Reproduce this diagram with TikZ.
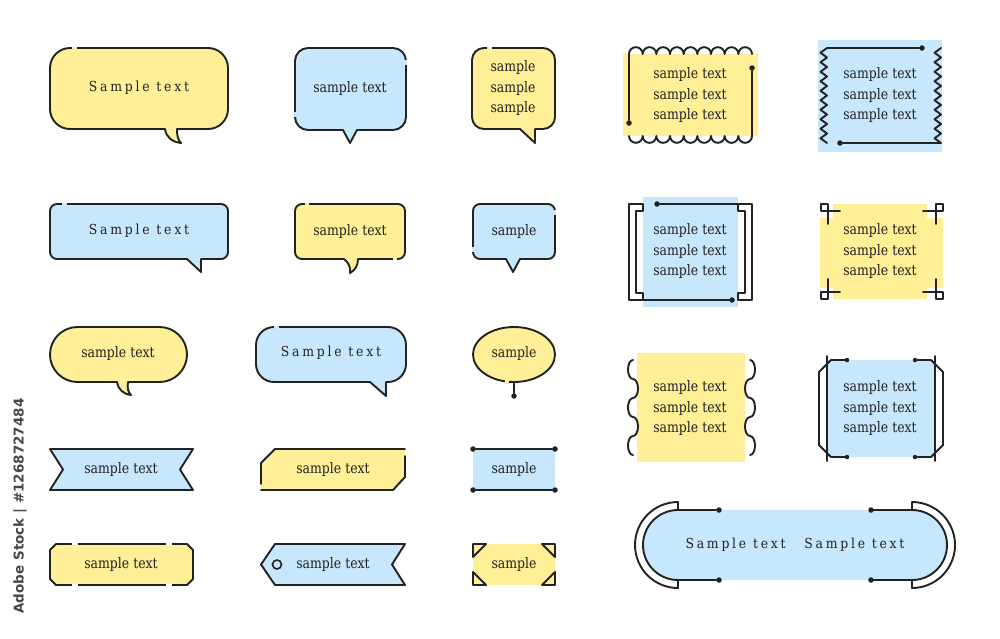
\documentclass[tikz,border=0pt]{standalone}
\usepackage{fontspec}
\setmainfont{DejaVu Serif}[FakeStretch=0.86]
\newfontfamily\spfont{DejaVu Serif}[FakeStretch=0.9,LetterSpace=20]
\newfontfamily\wmfont{DejaVu Sans}
\definecolor{ink}{HTML}{222222}
\definecolor{yfill}{RGB}{255,239,150}
\definecolor{bfill}{RGB}{199,231,252}
\newcommand\rrpath[6]{(#1+#5,#2) -- (#3-#5,#2) arc[start angle=270,end angle=360,radius=#5] -- (#3,#4-#5) arc[start angle=0,end angle=90,radius=#5] #6 -- (#1+#5,#4) arc[start angle=90,end angle=180,radius=#5] -- (#1,#2+#5) arc[start angle=180,end angle=270,radius=#5] -- cycle}
\begin{document}
\begin{tikzpicture}[x=1pt,y=-1pt,
  ln/.style={draw=ink,line width=1.9pt,line join=round,line cap=round},
  txt/.style={text=ink,align=center,inner sep=0pt,font=\fontsize{14.5}{20.5}\selectfont},
  sp/.style={text=ink,inner sep=0pt,font=\spfont\fontsize{13.8}{15}\selectfont},
  pin/.style={circle,fill=ink,inner sep=0pt,minimum size=5.5pt}]
\useasboundingbox (0,0) rectangle (1000,638);
\fill[white] (0,0) rectangle (1000,638);

% ---- row 1
\draw[ln,fill=yfill] \rrpath{50}{48}{228}{129}{20}{-- (177,129) .. controls (177,136) and (178,140) .. (181,143) .. controls (172,142) and (166,137) .. (165,129)};
\fill[yfill] (72,46.8) rectangle (77,49.2);
\node[sp] (s1) at (139,88) {Sample text};

\draw[ln,fill=bfill] \rrpath{295}{48}{406}{130}{13}{-- (357,130) -- (350,143) -- (343,130)};
\fill[bfill] (404.8,60) rectangle (407.2,65);
\fill[bfill] (293.8,112) rectangle (296.2,117);
\node[txt] (s2) at (350,88) {sample text};

\draw[ln,fill=yfill] \rrpath{472}{48}{555}{129}{12}{-- (535,129) -- (535,143) -- (520,129)};
\fill[yfill] (487,46.8) rectangle (492,49.2);
\node[txt] (s3) at (513,88) {sample\\sample\\sample};

\fill[yfill] (623,54) rectangle (758,136);
\node[pin] (d4a) at (629,123) {};
\node[pin] (d4b) at (752,68) {};
\draw[ln] (d4a) -- (629,54) \foreach \i in {1,...,9}{arc[start angle=180,end angle=360,radius=6.833]};
\draw[ln] (d4b) -- (752,136) \foreach \i in {1,...,9}{arc[start angle=0,end angle=180,radius=6.833]};
\node[txt] (s4) at (690,95) {sample text\\sample text\\sample text};

\fill[bfill] (818,40) rectangle (942,152);
\node[pin] (d5a) at (922,48) {};
\node[pin] (d5b) at (840,143) {};
\draw[ln] (d5a) -- (827,48) \foreach \k in {1,...,10}{-- ++(-6.5,4.75) -- ++(6.5,4.75)};
\draw[ln] (d5b) -- (941,143) \foreach \k in {1,...,10}{-- ++(-6.5,-4.75) -- ++(6.5,-4.75)};
\node[txt] (s5) at (880,95) {sample text\\sample text\\sample text};

% ---- row 2
\draw[ln,fill=bfill] \rrpath{50}{204}{228}{259}{7}{-- (201,259) -- (201,272) -- (187,259)};
\fill[bfill] (62,202.8) rectangle (67,205.2);
\node[sp] (s6) at (139,231) {Sample text};

\draw[ln,fill=yfill] \rrpath{295}{204}{405}{259}{7}{-- (358,259) .. controls (358,266) and (355,270) .. (350,273) .. controls (351,267) and (348,262) .. (344,259)};
\fill[yfill] (305,202.8) rectangle (309,205.2);
\fill[yfill] (393,257.8) rectangle (397,260.2);
\node[txt] (s7) at (350,231) {sample text};

\draw[ln,fill=bfill] \rrpath{473}{204}{555}{259}{7}{-- (520,259) -- (513,272) -- (506,259)};
\fill[bfill] (471.8,247) rectangle (474.2,252);
\fill[bfill] (553.8,210) rectangle (556.2,215);
\node[txt] (s8) at (514,231) {sample};

\fill[bfill] (643,197) rectangle (738,307);
\draw[ln,fill=white] (643,204) -- (629,204) -- (629,300) -- (643,300) -- (643,293) -- (636,293) -- (636,211) -- (643,211) -- cycle;
\draw[ln,fill=white] (738,204) -- (752,204) -- (752,300) -- (738,300) -- (738,293) -- (745,293) -- (745,211) -- (738,211) -- cycle;
\node[pin] (d9a) at (657,204) {};
\node[pin] (d9b) at (732,300) {};
\draw[ln] (d9a) -- (738,204);
\draw[ln] (643,300) -- (d9b);
\node[txt] (s9) at (690,251) {sample text\\sample text\\sample text};

\fill[yfill] (833,204) rectangle (927,299);
\fill[yfill] (820,218) rectangle (943,288);
\draw[ln] (821,204) rectangle (828,211);
\draw[ln] (840,211) -- (828,211) -- (828,224);
\draw[ln] (936,204) rectangle (943,211);
\draw[ln] (923,211) -- (936,211) -- (936,224);
\draw[ln] (821,292) rectangle (828,299);
\draw[ln] (840,292) -- (828,292) -- (828,279);
\draw[ln] (936,292) rectangle (943,299);
\draw[ln] (923,292) -- (936,292) -- (936,279);
\node[txt] (s10) at (880,251) {sample text\\sample text\\sample text};

% ---- row 3
\draw[ln,fill=yfill] \rrpath{50}{327}{187}{382}{27.5}{-- (128,382) .. controls (127,388) and (128,392) .. (131,395) .. controls (123,394) and (118,389) .. (117,382)};
\node[txt] (s11) at (118,353) {sample text};

\draw[ln,fill=bfill] \rrpath{256}{327}{406}{382}{18}{-- (386,382) -- (386,396) -- (370,382)};
\fill[bfill] (274,325.8) rectangle (279,328.2);
\node[sp] (s12) at (331,353) {Sample text};

\draw[ln,fill=yfill] (514,354.5) ellipse [x radius=41, y radius=27.5];
\fill[yfill] (505,379.5) rectangle (509,383.5);
\node[pin] (d13) at (514,396) {};
\draw[ln] (514,382) -- (d13);
\node[txt] (s13) at (514,353) {sample};

\fill[yfill] (637,353) rectangle (745,462);
\draw[ln] (633,360) arc[start angle=270,end angle=90,x radius=5,y radius=9.5]
  arc[start angle=-90,end angle=90,x radius=5,y radius=9.5]
  arc[start angle=270,end angle=90,x radius=5,y radius=9.5]
  arc[start angle=-90,end angle=90,x radius=5,y radius=9.5]
  arc[start angle=270,end angle=90,x radius=5,y radius=9.5];
\draw[ln] (750,360) arc[start angle=-90,end angle=90,x radius=5,y radius=9.5]
  arc[start angle=270,end angle=90,x radius=5,y radius=9.5]
  arc[start angle=-90,end angle=90,x radius=5,y radius=9.5]
  arc[start angle=270,end angle=90,x radius=5,y radius=9.5]
  arc[start angle=-90,end angle=90,x radius=5,y radius=9.5];
\node[txt] (s20) at (690,408) {sample text\\sample text\\sample text};

\fill[bfill] (827,360) rectangle (935,457);
\draw[ln] (827,356) -- (827,461);
\draw[ln] (935,356) -- (935,461);
\node[pin,minimum size=4.5pt] (d21a) at (847,360) {};
\node[pin,minimum size=4.5pt] (d21b) at (847,457) {};
\node[pin,minimum size=4.5pt] (d21c) at (915,360) {};
\node[pin,minimum size=4.5pt] (d21d) at (915,457) {};
\draw[ln] (d21a) -- (831,360) -- (819,372) -- (819,445) -- (831,457) -- (d21b);
\draw[ln] (d21c) -- (931,360) -- (943,372) -- (943,445) -- (931,457) -- (d21d);
\node[txt] (s21) at (880,408) {sample text\\sample text\\sample text};

% ---- row 4
\draw[ln,fill=bfill] (50,449) -- (193,449) -- (180,469.5) -- (193,490) -- (50,490) -- (63,469.5) -- cycle;
\node[txt] (s14) at (121,469) {sample text};

\fill[yfill] (275,449) -- (405,449) -- (405,477) -- (393,490) -- (261,490) -- (261,463) -- cycle;
\draw[ln] (261,484) -- (261,463) -- (275,449) -- (405,449);
\draw[ln] (405,456) -- (405,477) -- (393,490) -- (261,490);
\node[txt] (s15) at (333,469) {sample text};

\fill[bfill] (473,449) rectangle (555,490);
\node[pin] (d16a) at (473,449) {};
\node[pin] (d16b) at (555,449) {};
\node[pin] (d16c) at (473,490) {};
\node[pin] (d16d) at (555,490) {};
\draw[ln] (d16a) -- (d16b);
\draw[ln] (d16c) -- (d16d);
\node[txt] (s16) at (514,469) {sample};

% ---- row 5
\draw[ln,fill=yfill] (56,544) -- (187,544) -- (193,550) -- (193,579) -- (187,585) -- (56,585) -- (50,579) -- (50,550) -- cycle;
\fill[white] (72,542.6) rectangle (78,545.4);
\fill[white] (166,542.6) rectangle (172,545.4);
\fill[white] (72,583.6) rectangle (78,586.4);
\fill[white] (166,583.6) rectangle (172,586.4);
\node[txt] (s17) at (121,564) {sample text};

\draw[ln,fill=bfill] (275,544) -- (405,544) -- (392,564.5) -- (405,585) -- (275,585) -- (261,564.5) -- cycle;
\node[draw=ink,line width=1.6pt,circle,minimum size=9pt,inner sep=0pt] (h18) at (277,564.5) {};
\node[txt] (s18) at (333,564) {sample text};

\fill[yfill] (473,544) rectangle (555,585);
\draw[ln,fill=yfill] (473,544) -- (486,544) -- (473,557) -- cycle;
\draw[ln,fill=yfill] (555,544) -- (542,544) -- (555,557) -- cycle;
\draw[ln,fill=yfill] (473,585) -- (486,585) -- (473,572) -- cycle;
\draw[ln,fill=yfill] (555,585) -- (542,585) -- (555,572) -- cycle;
\node[txt] (s19) at (514,564) {sample};

% ---- big stadium
\fill[bfill] (678,510) -- (912,510) arc[start angle=-90,end angle=90,radius=35] -- (678,580) arc[start angle=90,end angle=270,radius=35] -- cycle;
\draw[ln,fill=white] (678,502) arc[start angle=270,end angle=90,radius=43] -- (678,580) arc[start angle=90,end angle=270,radius=35] -- cycle;
\draw[ln,fill=white] (912,502) arc[start angle=-90,end angle=90,radius=43] -- (912,580) arc[start angle=90,end angle=-90,radius=35] -- cycle;
\node[pin] (d22a) at (719,510) {};
\node[pin] (d22b) at (719,580) {};
\node[pin] (d22c) at (871,510) {};
\node[pin] (d22d) at (871,580) {};
\draw[ln] (678,510) -- (d22a);
\draw[ln] (678,580) -- (d22b);
\draw[ln] (d22c) -- (912,510);
\draw[ln] (d22d) -- (912,580);
\node[sp] (s22) at (795,545) {Sample text \hspace{12pt}Sample text};

% ---- side label
\node[rotate=90,inner sep=0pt,text=black!72,font=\wmfont\bfseries\fontsize{13.5}{14}\selectfont] (wm) at (20,506) {Adobe Stock | \#1268727484};
\end{tikzpicture}
\end{document}
